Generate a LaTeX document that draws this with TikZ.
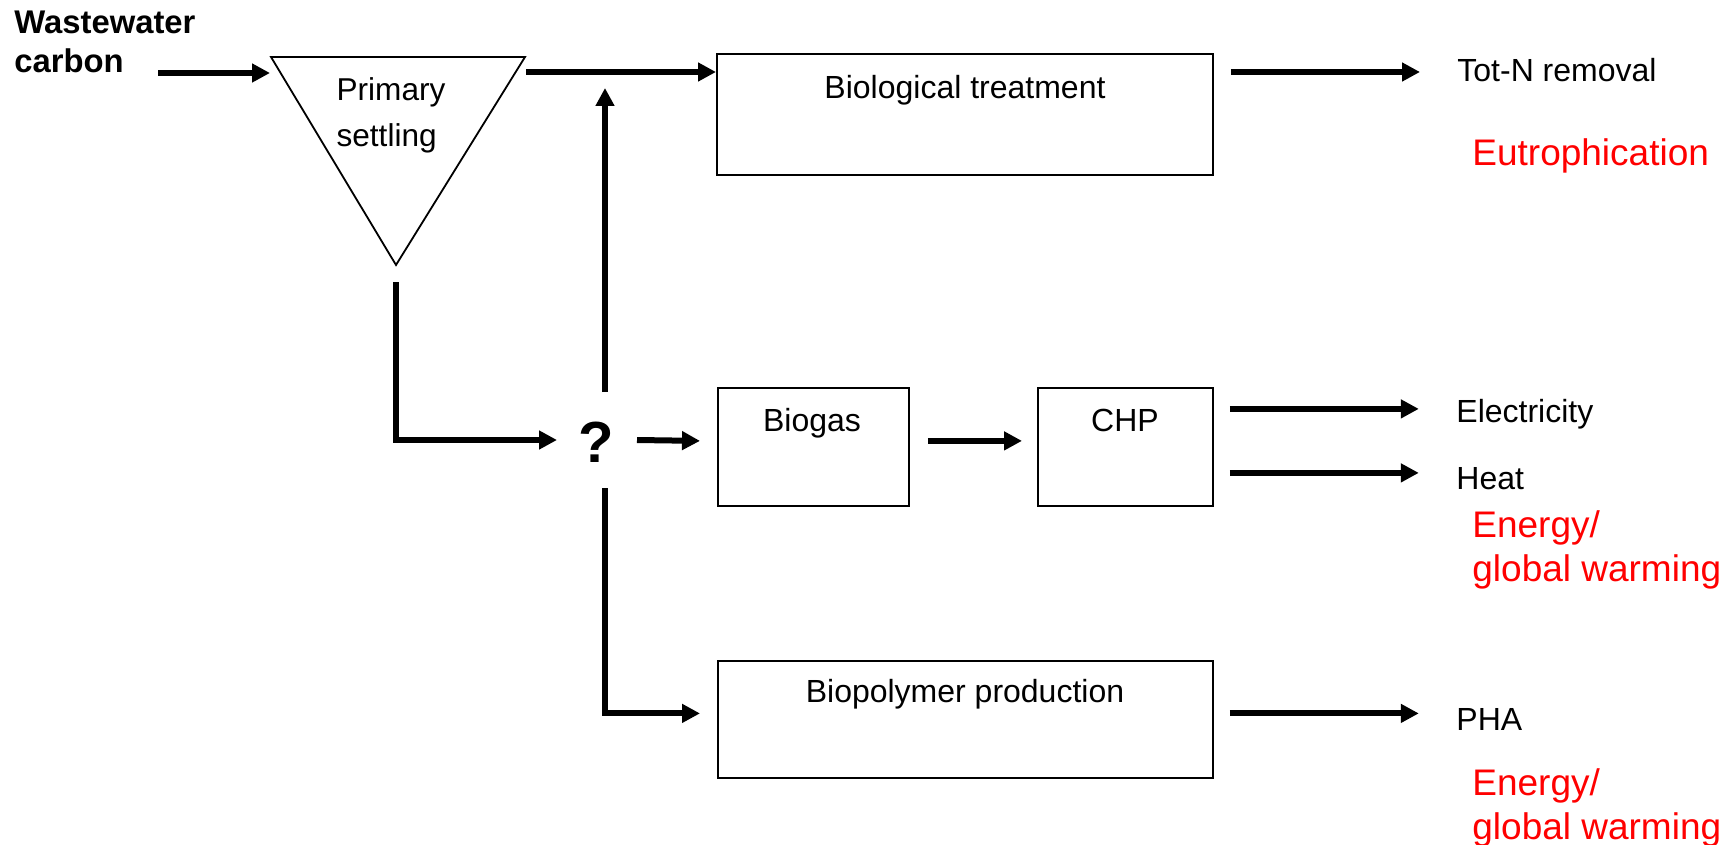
\documentclass[tikz,border=0pt]{standalone}
\usepackage{fontspec}
\setmainfont{Liberation Sans}
\usetikzlibrary{arrows.meta,calc}

\tikzset{
  box/.style={draw, line width=0.9pt, inner sep=0pt},
  flow/.style={line width=3pt, -{Triangle[length=9pt,width=9pt]}},
  lbl/.style={inner sep=0pt, font=\fontsize{16}{20}\selectfont},
  note/.style={inner sep=0pt, text=red, align=left, font=\fontsize{18.5}{22}\selectfont},
}

\begin{document}
\begin{tikzpicture}[x=0.5pt,y=-0.5pt]
  \useasboundingbox (0,0) rectangle (1733,845);

  % inflow label
  \node[inner sep=0pt, align=left, anchor=west, font=\bfseries\fontsize{16.4}{19.3}\selectfont]
    (ww) at (14,42) {Wastewater\\carbon};

  % primary settler (inverted triangle)
  \coordinate (tl) at (271,57);
  \coordinate (tr) at (525,57);
  \coordinate (tb) at (396,265);
  \draw[line width=0.9pt] (tl) -- (tr) -- (tb) -- cycle;
  \node[inner sep=0pt, align=left, font=\fontsize{15.8}{23}\selectfont]
    (prim) at (391,115) {Primary\\settling};

  % process boxes
  \node[box, anchor=north west, minimum width=248pt, minimum height=60.5pt] (bio) at (716,53) {};
  \node[lbl] (bioT) at (965,90) {Biological treatment};
  \node[box, anchor=north west, minimum width=95.5pt, minimum height=59pt] (gas) at (717,387) {};
  \node[lbl] (gasT) at (812,423) {Biogas};
  \node[box, anchor=north west, minimum width=87.5pt, minimum height=59pt] (chp) at (1037,387) {};
  \node[lbl] (chpT) at (1125,420) {CHP};
  \node[box, anchor=north west, minimum width=247.5pt, minimum height=58.5pt] (poly) at (717,660) {};
  \node[lbl] (polyT) at (965,694) {Biopolymer production};

  % decision point
  \node[inner sep=0pt, font=\bfseries\fontsize{29}{34}\selectfont] (q) at (596,442) {?};

  % outputs
  \node[lbl, anchor=west] (totn) at (1457,70) {Tot-N removal};
  \node[note, anchor=west] (eut) at (1472,156) {Eutrophication};
  \node[lbl, anchor=west] (elec) at (1456,414) {Electricity};
  \node[lbl, anchor=west] (heat) at (1456,479) {Heat};
  \node[note, anchor=west] (en1) at (1472,550) {Energy/\\global warming};
  \node[lbl, anchor=west] (pha) at (1456,719) {PHA};
  \node[note, anchor=west] (en2) at (1472,808) {Energy/\\global warming};

  % connector end points
  \coordinate (inS) at (158,73);
  \coordinate (inE) at (270,73);
  \coordinate (outS) at (526,72);
  \coordinate (sludge) at (396,282);
  \coordinate (upS) at (605,392);
  \coordinate (upE) at (605,88);
  \coordinate (dnS) at (605,488);

  % main line
  \draw[flow] (inS) -- (inE);
  \draw[flow] (outS) -- (bio.west |- outS);
  \draw[flow] ($(bio.east |- outS)+(17,0)$) -- ($(totn.west)+(-37,2)$);

  % sludge to decision point
  \draw[flow] (sludge) |- ($(q.center)+(-39,-2)$);
  \draw[flow] (upS) -- (upE);
  \draw[flow] ($(q.center)+(41,-2)$) -- ($(gas.west)+(-17,-6)$);
  \draw[flow] (dnS) |- ($(poly.west)+(-17,-6)$);

  % biogas route
  \draw[flow] ($(gas.east)+(18,-6)$) -- ($(chp.west)+(-15,-6)$);
  \draw[flow] ($(chp.east)+(16,-38)$) -- ($(chp.east)+(205,-38)$);
  \draw[flow] ($(chp.east)+(16,26)$) -- ($(chp.east)+(205,26)$);

  % biopolymer route
  \draw[flow] ($(poly.east)+(16,-6)$) -- ($(poly.east)+(205,-6)$);
\end{tikzpicture}
\end{document}
